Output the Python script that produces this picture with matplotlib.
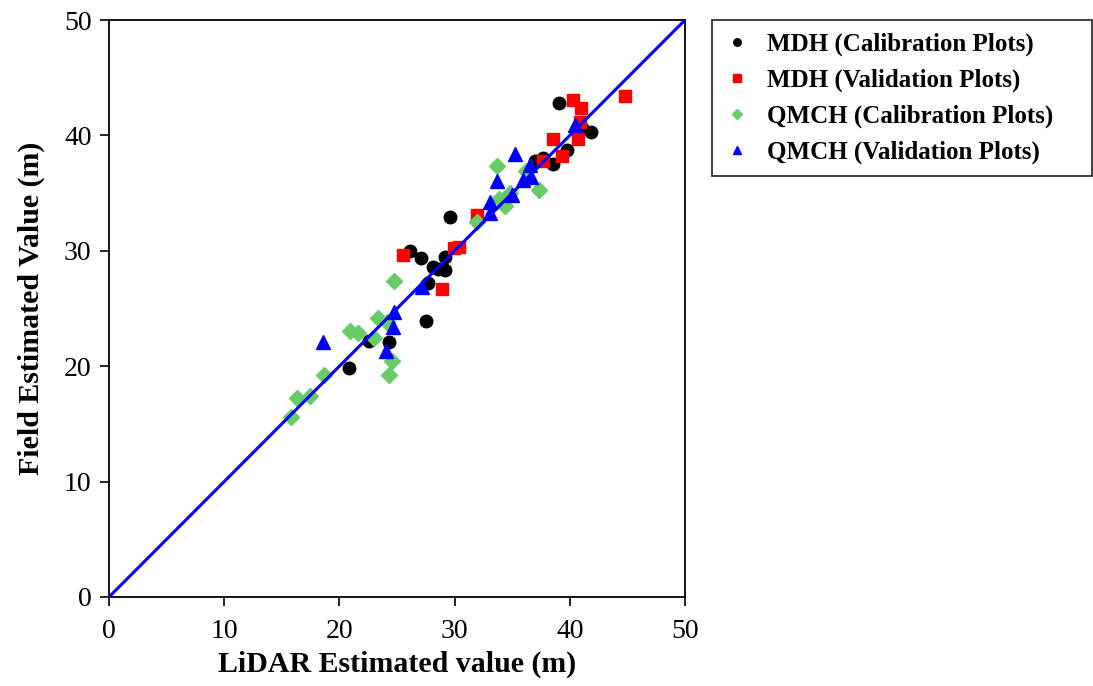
import matplotlib
matplotlib.use("Agg")
import matplotlib.pyplot as plt

# MDH (Calibration Plots)
mdh_cal_x = [39.06, 41.84, 41.06, 39.76, 38.54, 37.67, 36.98, 29.60, 26.13, 27.08, 28.13,
             29.17, 29.17, 28.56, 27.69, 27.52, 22.57, 24.31, 20.83]
mdh_cal_y = [42.81, 40.29, 40.64, 38.73, 37.52, 38.04, 37.78, 32.93, 29.98, 29.38, 28.60,
             29.46, 28.34, 28.42, 27.21, 23.92, 22.18, 22.10, 19.84]
# MDH (Validation Plots)
mdh_val_x = [40.28, 40.97, 40.89, 38.54, 40.71, 39.32, 37.67, 44.79, 31.94, 29.95, 30.38, 25.52, 28.91]
mdh_val_y = [43.07, 42.37, 41.16, 39.69, 39.69, 38.21, 37.78, 43.41, 33.10, 30.24, 30.33, 29.64, 26.69]
# QMCH (Calibration Plots)
qmch_cal_x = [33.68, 37.33, 34.81, 34.38, 33.85, 31.94, 36.20, 24.74, 23.35, 24.13, 20.92, 21.61,
              23.00, 24.57, 24.31, 18.66, 16.32, 17.45, 15.80]
qmch_cal_y = [37.35, 35.27, 35.01, 33.88, 34.49, 32.50, 36.90, 27.38, 24.18, 23.83, 23.05, 22.88,
              22.44, 20.45, 19.24, 19.24, 17.24, 17.42, 15.60]
# QMCH (Validation Plots)
qmch_val_x = [40.45, 36.55, 35.24, 33.68, 36.63, 35.94, 34.98, 33.07, 33.07, 27.17, 24.74, 24.65, 24.05, 18.58]
qmch_val_y = [40.90, 37.44, 38.39, 36.05, 36.40, 36.14, 34.84, 34.23, 33.28, 26.86, 24.70, 23.40, 21.32, 22.10]

line_x = [0, 50]
line_y = [0, 50]
ticks = [0, 10, 20, 30, 40, 50]

plt.rcParams['font.family'] = ['Liberation Serif', 'DejaVu Serif']

fig = plt.figure(figsize=(10.93, 6.86), dpi=100)
ax = fig.add_axes([109/1093, 89/686, 576/1093, 577/686])

ax.plot(mdh_cal_x, mdh_cal_y, 'o', color='black', markersize=9, linestyle='none',
        label='MDH (Calibration Plots)', zorder=3)
ax.plot(mdh_val_x, mdh_val_y, 's', color='#FF0000', markersize=8.5, linestyle='none',
        label='MDH (Validation Plots)', zorder=3)
ax.plot(qmch_cal_x, qmch_cal_y, 'D', color='#66CC66', markersize=8, linestyle='none',
        label='QMCH (Calibration Plots)', zorder=3)
ax.plot(qmch_val_x, qmch_val_y, '^', color='#0000FF', markersize=10, linestyle='none',
        label='QMCH (Validation Plots)', zorder=3)
ax.plot(line_x, line_y, '-', color='#0000FF', linewidth=2.2, zorder=4)

ax.set_xlim(0, 50)
ax.set_ylim(0, 50)
ax.set_xticks(ticks)
ax.set_yticks(ticks)
ax.tick_params(labelsize=20, direction='out', length=6.5, width=1.2)
ax.tick_params(axis='x', pad=9)
ax.tick_params(axis='y', pad=6)
for s in ax.spines.values():
    s.set_linewidth(1.3)
ax.set_xlabel('LiDAR Estimated value (m)', fontsize=21.5, fontweight='bold', labelpad=5)
ax.set_ylabel('Field Estimated Value (m)', fontsize=21.5, fontweight='bold', labelpad=14)

x0 = 712/1093
leg = fig.legend(loc='upper left', bbox_to_anchor=(x0, 1 - 170/686, 1 - x0 - 1/1093, 150/686),
                 mode='expand', borderaxespad=0,
                 frameon=True, fancybox=False, markerscale=0.6, handlelength=1.0,
                 handletextpad=0.7, borderpad=0.5, labelspacing=0.5,
                 prop={'family': 'Liberation Serif', 'weight': 'bold', 'size': 18})
leg.get_frame().set_edgecolor('black')
leg.get_frame().set_linewidth(1.3)

fig.savefig('out.png', dpi=100)
